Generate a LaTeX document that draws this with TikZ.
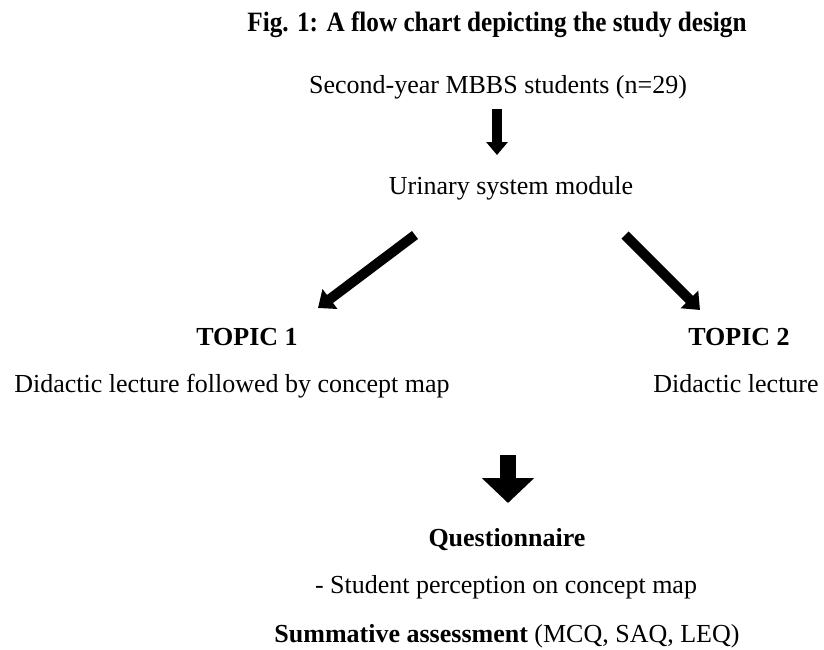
\documentclass[tikz,border=0pt]{standalone}
\usepackage{fontspec}
\setmainfont{Liberation Serif}
\newfontfamily\titlefont[FakeStretch=0.9]{Liberation Serif}
\usetikzlibrary{positioning,arrows.meta}
\tikzset{
  txt/.style={anchor=base, inner sep=0pt, font=\fontsize{26}{30}\selectfont},
  headtxt/.style={anchor=base, inner sep=0pt, font=\fontsize{26}{30}\selectfont\bfseries},
  titletxt/.style={anchor=base, inner sep=0pt, font=\fontsize{28}{32}\selectfont\titlefont\bfseries},
  flowarrow/.style={-{Triangle[length=13pt,width=21pt]}, line width=10pt},
  slantarrow/.style={-{Triangle[length=15pt,width=24pt]}, line width=10pt},
  bigarrow/.style={-{Triangle[length=25pt,width=51pt]}, line width=16pt}
}
\begin{document}
\begin{tikzpicture}[x=1pt, y=-1pt]
  \useasboundingbox (0,0) rectangle (824,649);
  \node[titletxt] (title) at (497,31) {Fig. 1: A flow chart depicting the study design};
  \node[txt] (students) at (498,93) {Second-year MBBS students (n=29)};
  \node[txt] (module) at (511,194) {Urinary system module};
  \node[headtxt] (topic1) at (247,345) {TOPIC 1};
  \node[txt] (arm1) at (232,392) {Didactic lecture followed by concept map};
  \node[headtxt] (topic2) at (739,345) {TOPIC 2};
  \node[txt] (arm2) at (736,392) {Didactic lecture};
  \node[headtxt] (quest) at (507,546) {Questionnaire};
  \node[txt] (percep) at (506,593) {- Student perception on concept map};
  \node[txt] (assess) at (507,642) {\textbf{Summative assessment} (MCQ, SAQ, LEQ)};
  \coordinate (a1s) at (497,109);
  \coordinate (a1e) at (497,155);
  \coordinate (a2s) at (415,235);
  \coordinate (a2e) at (318,308);
  \coordinate (a3s) at (625,235);
  \coordinate (a3e) at (700,310);
  \coordinate (a4s) at (508,455);
  \coordinate (a4e) at (508,503);
  \draw[flowarrow] (a1s) -- (a1e);
  \draw[slantarrow] (a2s) -- (a2e);
  \draw[slantarrow] (a3s) -- (a3e);
  \draw[bigarrow] (a4s) -- (a4e);
\end{tikzpicture}
\end{document}
